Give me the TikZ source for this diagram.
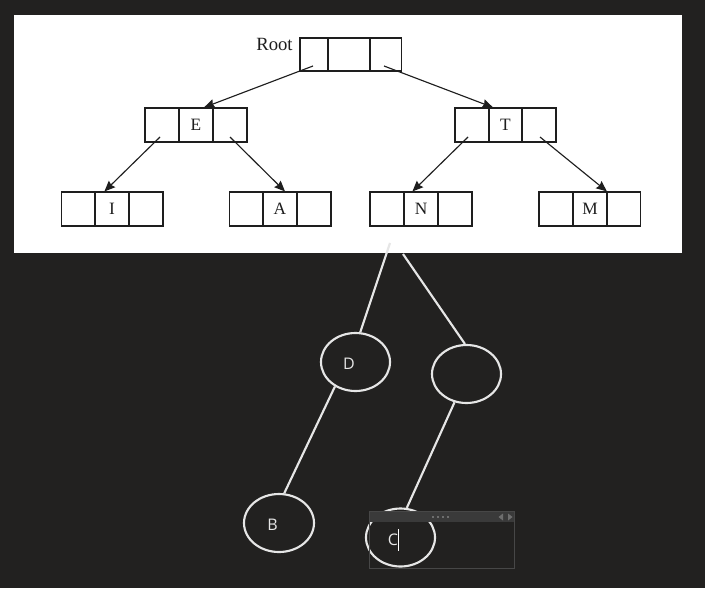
\documentclass[tikz,border=0pt]{standalone}
\usepackage{fontspec}
\setmainfont{Liberation Serif}
\newfontfamily\uifont{Open Sans}
\usetikzlibrary{arrows.meta,shapes.geometric,calc}
\definecolor{bg}{HTML}{222120}
\definecolor{ink}{HTML}{1E1E1E}
\definecolor{chalk}{HTML}{E6E6E6}
\definecolor{barfill}{HTML}{3A3A3A}
\definecolor{barline}{HTML}{474747}
\definecolor{grip}{HTML}{6E6E6E}

\begin{document}
\begin{tikzpicture}[x=0.75pt,y=-0.75pt,
  cell/.style={draw=ink, line width=0.85pt, minimum height=25.5pt, minimum width=25.5pt,
    inner sep=0pt, text=ink, font=\fontsize{13}{15}\selectfont},
  link/.style={draw=ink, line width=0.85pt, -{Stealth[length=8pt,width=6.8pt,inset=1pt]}},
  bubble/.style={draw=chalk, line width=1.6pt, ellipse, minimum width=51.75pt,
    minimum height=43.5pt, inner sep=0pt},
  edge/.style={draw=chalk, line width=1.6pt},
  tag/.style={text=chalk, inner sep=0pt, font=\uifont\fontsize{12}{14}\selectfont}]

\useasboundingbox (0,0) rectangle (705,588);
\fill[bg] (0,0) rectangle (705,588);
\fill[white] (14,15) rectangle (682,253);

% root record
\node[anchor=base, inner sep=0pt, text=ink, font=\fontsize{14}{16}\selectfont] (rootlabel) at (274.5,51) {Root};
\node[cell, minimum width=21pt, minimum height=24.75pt] (R1) at (314,54.5) {};
\node[cell, minimum width=31.5pt, minimum height=24.75pt] (R2) at (349,54.5) {};
\node[cell, minimum width=23.6pt, minimum height=24.75pt] (R3) at (385.75,54.5) {};

% second level
\node[cell] (E1) at (162,125) {};
\node[cell, minimum width=24.75pt] (E2) at (196,125) {E};
\node[cell] (E3) at (230,125) {};
\node[cell] (T1) at (472,125) {};
\node[cell, minimum width=24.75pt] (T2) at (505.5,125) {T};
\node[cell] (T3) at (539,125) {};

% leaves
\node[cell] (I1) at (78.5,209) {};
\node[cell] (I2) at (112,209) {I};
\node[cell] (I3) at (146,209) {};
\node[cell] (A1) at (246.5,209) {};
\node[cell] (A2) at (280,209) {A};
\node[cell] (A3) at (314,209) {};
\node[cell] (N1) at (387,209) {};
\node[cell] (N2) at (421,209) {N};
\node[cell] (N3) at (455,209) {};
\node[cell] (M1) at (556,209) {};
\node[cell] (M2) at (590,209) {M};
\node[cell] (M3) at (623.5,209) {};

% pointers
\draw[link] ($(R1.center)+(-1,11.5)$) -- ($(E2.north)+(8,0)$);
\draw[link] ($(R3.center)+(-1.75,11.5)$) -- ($(T2.north)+(-12.5,0)$);
\draw[link] ($(E1.center)+(-2,12)$) -- ($(I2.north west)+(10,0)$);
\draw[link] ($(E3.center)+(0,12)$) -- ($(A2.north)+(5,0)$);
\draw[link] ($(T1.center)+(-4,12)$) -- ($(N2.north west)+(9,0)$);
\draw[link] ($(T3.center)+(1,12)$) -- ($(M3.north west)+(1,0)$);

% hand-drawn sketch below
\node[bubble] (D) at (355.5,362) {};
\node[bubble] (Q) at (466.5,374) {};
\node[bubble, minimum width=52.5pt] (B) at (279,523) {};
\node[bubble] (C) at (400.5,537.5) {};
\coordinate (s1) at (390,243);
\coordinate (s2) at (403,254);
\draw[edge] (s1) -- (D.81);
\draw[edge] (s2) -- (Q.93);
\draw[edge] (D.230.6) -- (B.80.2);
\draw[edge] (Q.247.7) -- (C.78.7);
\node[tag] (Dt) at (349,363.5) {D};
\node[tag] (Bt) at (272.5,524.5) {B};
\node[tag] (Ct) at (393,540) {C};

% floating edit box
\fill[barfill] (369,511) rectangle (514,522);
\draw[barline, line width=0.75pt] (369,511) rectangle (514,568);
\foreach \gx in {433,438,443,448}
  \fill[grip] (\gx-1,516) rectangle (\gx+1,518);
\fill[grip] (503,513.5) -- (503,520.5) -- (498.5,517) -- cycle;
\fill[grip] (508,513.5) -- (508,520.5) -- (512.5,517) -- cycle;
\draw[white, line width=0.75pt] (398.5,529) -- (398.5,551);
\end{tikzpicture}
\end{document}
